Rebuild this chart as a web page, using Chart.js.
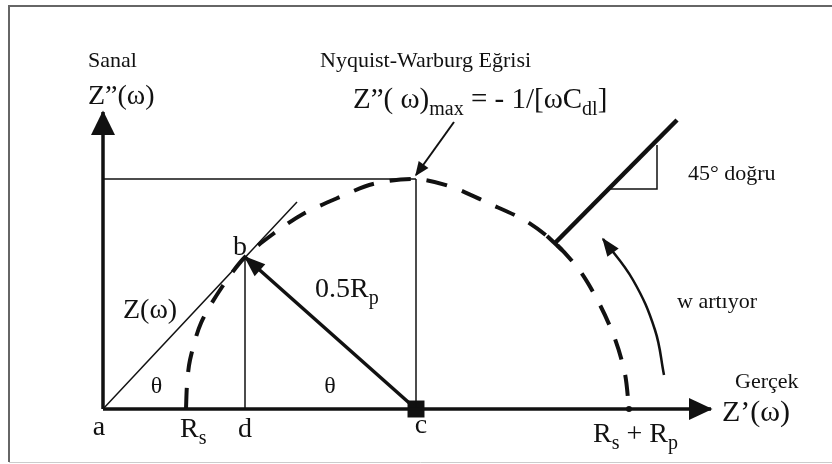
<!DOCTYPE html>
<html>
<head>
<meta charset="utf-8">
<script src="https://cdn.jsdelivr.net/npm/chart.js@4.4.1/dist/chart.umd.min.js"></script>
<style>
  html, body { margin: 0; padding: 0; background: #fff; }
  #wrap { width: 832px; height: 464px; }
</style>
</head>
<body>
<div id="wrap"><canvas id="chart" width="832" height="464"></canvas></div>
<script>
// Nyquist diagram values: Z' along x, -Z'' along y, same unit on both axes
const axisEnd = [60.8, 29.7];           // x arrow tip, y arrow tip
const markX = [0, 8.3, 14.2, 31.3, 52.6]; // a, Rs, d, c, Rs+Rp
const markNames = [[['a']], [['R'], ['s', 'sub']], [['d']], [['c']], [['R'], ['s', 'sub'], [' + R'], ['p', 'sub']]];
const zMax = 23.0;
const bPoint = [14.2, 15.2];
const zLineEnd = [19.4, 20.7];

const arcX = [8.3, 8.4, 8.7, 9.8, 11.9, 14.2, 17.0, 20.0, 23.7, 27.0, 31.3, 34.9, 38.5, 42.3, 45.2, 47.7, 49.7, 51.2, 52.2, 52.6];
const arcY = [0, 2.4, 4.9, 8.6, 12.2, 15.2, 17.5, 19.5, 21.2, 22.5, 23.0, 22.2, 20.6, 18.8, 16.6, 13.8, 10.4, 7.0, 3.5, 0];

// Warburg 45° line, its end tick and slope triangle
const warbX = [45.2, 57.4];
const warbY = [16.6, 28.9];
const tickX = [44.4, 45.9];
const tickY = [17.3, 15.9];
const triX = [50.7, 55.4, 55.4];
const triY = [22.0, 22.0, 26.4];

// "w artıyor" curved arrow and the arrow pointing at Z''max
const wX = [56.1, 55.2, 53.0, 50.0];
const wY = [3.4, 7.9, 12.9, 17.0];
const lblX = [35.1, 31.3];
const lblY = [28.7, 23.4];

const ink = '#111';
const serif = '"Liberation Serif", "DejaVu Serif", serif';

function pts(xs, ys) { return xs.map((x, i) => ({ x: x, y: ys[i] })); }

function seg(xs, ys, width, extra) {
  return Object.assign({
    data: pts(xs, ys),
    showLine: true,
    borderColor: ink,
    backgroundColor: ink,
    borderWidth: width,
    pointRadius: 0,
    tension: 0
  }, extra || {});
}

const datasets = [
  seg([0, axisEnd[0]], [0, 0], 3.5, { arrow: { len: 22, half: 11 } }),
  seg([0, 0], [0, axisEnd[1]], 3.5, { arrow: { len: 23, half: 12 } }),
  seg([0, markX[3]], [zMax, zMax], 1.5),
  seg([markX[3], markX[3]], [0, zMax], 1.5),
  seg([markX[2], markX[2]], [0, bPoint[1]], 1.5),
  seg([0, zLineEnd[0]], [0, zLineEnd[1]], 1.5),
  seg([markX[3], bPoint[0]], [0, bPoint[1]], 3.5, { arrow: { len: 20, half: 8 } }),
  seg(arcX, arcY, 4, { borderDash: [21, 16], tension: 0.3 }),
  seg(warbX, warbY, 4.5),
  seg(tickX, tickY, 4),
  seg(triX, triY, 1.5),
  seg(wX, wY, 2.5, { tension: 0.4, arrow: { len: 17, half: 7 } }),
  seg(lblX, lblY, 2, { arrow: { len: 13, half: 6 } }),
  { data: [{ x: markX[3], y: 0 }], pointStyle: 'rect', pointRadius: 12, backgroundColor: ink, borderWidth: 0, showLine: false },
  { data: [{ x: markX[4], y: 0 }], pointStyle: 'circle', pointRadius: 3, backgroundColor: ink, borderWidth: 0, showLine: false }
];

// text annotations, anchored in axis units
const labels = [
  { parts: [['Sanal']], x: -1.5, y: 34.2, size: 22 },
  { parts: [['Nyquist-Warburg Eğrisi']], x: 21.7, y: 34.2, size: 22 },
  { parts: [['Z”(ω)']], x: -1.5, y: 30.5, size: 28 },
  { parts: [['Z”( ω)'], ['max', 'sub'], [' = - 1/[ωC'], ['dl', 'sub'], [']']], x: 25.0, y: 30.1, size: 29 },
  { parts: [['45° doğru']], x: 58.5, y: 22.9, size: 22 },
  { parts: [['w artıyor']], x: 57.4, y: 10.1, size: 22 },
  { parts: [['Gerçek']], x: 63.2, y: 2.1, size: 22 },
  { parts: [['Z’(ω)']], x: 61.9, y: -1.2, size: 30 },
  { parts: [['Z(ω)']], x: 2.0, y: 9.1, size: 28 },
  { parts: [['0.5R'], ['p', 'sub']], x: 21.2, y: 11.2, size: 28 },
  { parts: [['θ']], x: 5.35, y: 1.6, size: 24, align: 'center' },
  { parts: [['θ']], x: 22.7, y: 1.6, size: 24, align: 'center' },
  { parts: [['b']], x: 13.0, y: 15.4, size: 28 }
];
const markLabelAt = [[-0.4, -2.6, 'center'], [7.7, -2.8, 'left'], [14.2, -2.8, 'center'], [31.8, -2.4, 'center'], [49.0, -3.3, 'left']];

function drawRich(ctx, parts, x, y, size, align) {
  const fonts = parts.map(p => (p[1] === 'sub' ? Math.round(size * 0.7) : size) + 'px ' + serif);
  const widths = parts.map((p, i) => { ctx.font = fonts[i]; return ctx.measureText(p[0]).width; });
  const total = widths.reduce((a, b) => a + b, 0);
  let cx = align === 'center' ? x - total / 2 : x;
  parts.forEach((p, i) => {
    ctx.font = fonts[i];
    ctx.fillText(p[0], cx, y + (p[1] === 'sub' ? size * 0.24 : 0));
    cx += widths[i];
  });
}

// page frame: dark top and left edge, faint bottom edge
const framePlugin = {
  id: 'frame',
  beforeDraw(chart) {
    const ctx = chart.ctx;
    ctx.save();
    ctx.fillStyle = '#fff';
    ctx.fillRect(0, 0, chart.width, chart.height);
    ctx.lineWidth = 2;
    ctx.strokeStyle = '#666';
    ctx.beginPath();
    ctx.moveTo(9, 462); ctx.lineTo(9, 6); ctx.lineTo(chart.width, 6);
    ctx.stroke();
    ctx.lineWidth = 1;
    ctx.strokeStyle = '#ccc';
    ctx.beginPath();
    ctx.moveTo(9, 462.5); ctx.lineTo(chart.width, 462.5);
    ctx.stroke();
    ctx.restore();
  }
};

// filled arrow head at the last point of any dataset that has an `arrow` entry
const arrowPlugin = {
  id: 'arrowHeads',
  afterDatasetsDraw(chart) {
    const ctx = chart.ctx;
    chart.data.datasets.forEach((ds, i) => {
      if (!ds.arrow) return;
      const pts = chart.getDatasetMeta(i).data;
      const p1 = pts[pts.length - 2], p2 = pts[pts.length - 1];
      const ang = Math.atan2(p2.y - p1.y, p2.x - p1.x);
      const bx = p2.x - Math.cos(ang) * ds.arrow.len, by = p2.y - Math.sin(ang) * ds.arrow.len;
      const nx = -Math.sin(ang) * ds.arrow.half, ny = Math.cos(ang) * ds.arrow.half;
      ctx.save();
      ctx.fillStyle = ink;
      ctx.beginPath();
      ctx.moveTo(p2.x + Math.cos(ang) * 1.5, p2.y + Math.sin(ang) * 1.5);
      ctx.lineTo(bx + nx, by + ny);
      ctx.lineTo(bx - nx, by - ny);
      ctx.closePath();
      ctx.fill();
      ctx.restore();
    });
  }
};

const labelPlugin = {
  id: 'labels',
  afterDraw(chart) {
    const ctx = chart.ctx, xs = chart.scales.x, ys = chart.scales.y;
    ctx.save();
    ctx.fillStyle = ink;
    ctx.textBaseline = 'alphabetic';
    labels.forEach(l => drawRich(ctx, l.parts, xs.getPixelForValue(l.x), ys.getPixelForValue(l.y), l.size, l.align));
    markNames.forEach((parts, i) => {
      const at = markLabelAt[i];
      drawRich(ctx, parts, xs.getPixelForValue(at[0]), ys.getPixelForValue(at[1]), 28, at[2]);
    });
    ctx.restore();
  }
};

new Chart(document.getElementById('chart'), {
  type: 'scatter',
  data: { datasets: datasets },
  options: {
    responsive: false,
    animation: false,
    devicePixelRatio: 1,
    events: [],
    layout: { padding: 0, autoPadding: false },
    plugins: { legend: { display: false }, tooltip: { enabled: false } },
    scales: {
      x: { type: 'linear', min: -10.3, max: 72.9, display: false },
      y: { type: 'linear', min: -5.5, max: 40.9, display: false }
    }
  },
  plugins: [framePlugin, arrowPlugin, labelPlugin]
});
</script>
</body>
</html>
